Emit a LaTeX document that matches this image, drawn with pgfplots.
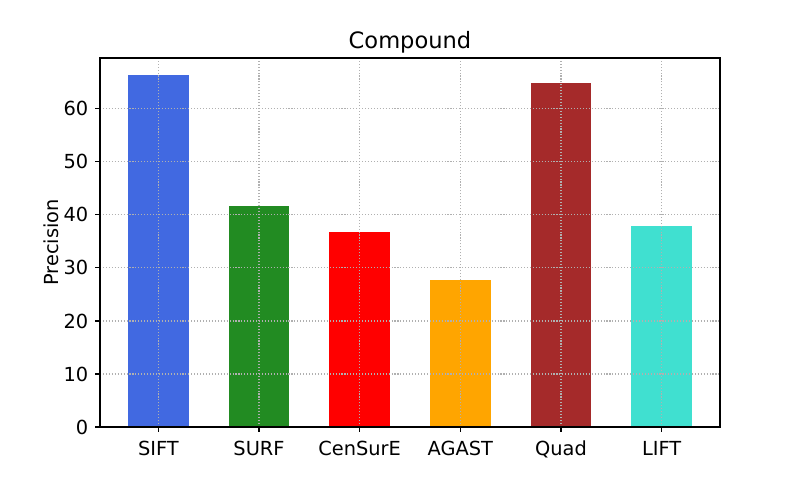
\documentclass[border=0pt]{standalone}
\usepackage{pgfplots}
\pgfplotsset{compat=1.18}
\usepackage{fontspec}
\setmainfont{DejaVu Sans}

\definecolor{royalblue}{HTML}{4169E1}
\definecolor{forestgreen}{HTML}{228B22}
\definecolor{mplorange}{HTML}{FFA500}
\definecolor{mplbrown}{HTML}{A52A2A}
\definecolor{turquoise}{HTML}{40E0D0}
\definecolor{gridgray}{HTML}{B0B0B0}

\begin{document}
\begin{tikzpicture}
\useasboundingbox (0,0) rectangle (576bp,345.6bp);
\begin{axis}[
	at={(72bp,38.16bp)}, anchor=south west,
	scale only axis,
	width=446.4bp, height=265.7bp,
	xmin=-0.58, xmax=5.58,
	ymin=0, ymax=69.6,
	xtick={0,1,2,3,4,5},
	xticklabels={SIFT, SURF, CenSurE, AGAST, Quad, LIFT},
	ytick={0,10,20,30,40,50,60},
	tick align=outside,
	major tick length=3.5bp,
	tick style={black, line width=0.8bp},
	xtick pos=bottom, ytick pos=left,
	axis line style={black, line width=0.8bp},
	grid=major,
	major grid style={gridgray, line width=0.8bp, dash pattern=on 0.8bp off 1.32bp},
	axis on top,
	/pgf/number format/assume math mode=true,
	tick label style={font=\fontsize{14}{16}\selectfont},
	xticklabel style={anchor=base, yshift=-17.3bp},
	yticklabel style={anchor=east, inner sep=0pt, xshift=-4.8bp},
	title={Compound},
	every axis title shift=0pt,
	title style={font=\fontsize{16.3}{19}\selectfont, at={(0.5,1)}, anchor=base, yshift=6.5bp},
	ylabel={Precision},
	ylabel style={font=\fontsize{14}{16}\selectfont, at={(axis description cs:-0.0677,0.5)}, anchor=base},
	ybar, bar width=0.6, bar shift=0pt,
]
\addplot[draw=none, fill=royalblue] coordinates {(0,66.3)};
\addplot[draw=none, fill=forestgreen] coordinates {(1,41.6)};
\addplot[draw=none, fill=red] coordinates {(2,36.7)};
\addplot[draw=none, fill=mplorange] coordinates {(3,27.7)};
\addplot[draw=none, fill=mplbrown] coordinates {(4,64.8)};
\addplot[draw=none, fill=turquoise] coordinates {(5,38.0)};
\end{axis}
\end{tikzpicture}
\end{document}
